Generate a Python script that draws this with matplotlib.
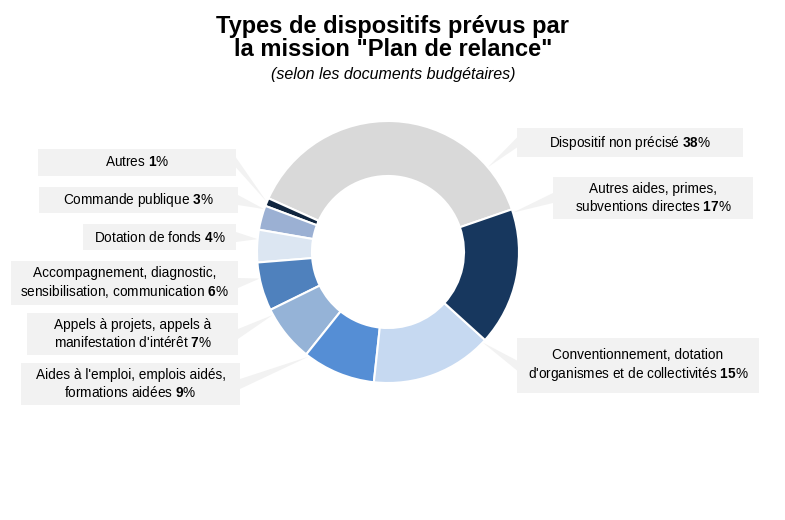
import numpy as np
import matplotlib
matplotlib.use("Agg")
import matplotlib.pyplot as plt
from matplotlib.patches import Rectangle, Polygon

plt.rcParams['font.family'] = ['Liberation Sans', 'DejaVu Sans']
plt.rcParams['mathtext.fontset'] = 'custom'
plt.rcParams['mathtext.rm'] = 'Liberation Sans'
plt.rcParams['mathtext.bf'] = 'Liberation Sans:bold'
plt.rcParams['mathtext.it'] = 'Liberation Sans:italic'

# ---- data (counter-clockwise order starting from the grey slice) ----
categories = [
    "Dispositif non précisé",
    "Autres",
    "Commande publique",
    "Dotation de fonds",
    "Accompagnement, diagnostic,\nsensibilisation, communication",
    "Appels à projets, appels à\nmanifestation d'intérêt",
    "Aides à l'emploi, emplois aidés,\nformations aidées",
    "Conventionnement, dotation\nd'organismes et de collectivités",
    "Autres aides, primes,\nsubventions directes",
]
values = [38, 1, 3, 4, 6, 7, 9, 15, 17]
colors = ["#d9d9d9", "#10253f", "#9bb0d3", "#dce6f2", "#4f81bd",
          "#95b3d7", "#558ed5", "#c6d9f1", "#17375e"]

# label boxes in pixel layout: (left, top, width, height)
boxes = [
    (517, 128, 226, 29),
    (38, 149, 198, 27),
    (39, 187, 199, 26),
    (83, 224, 153, 26),
    (11, 261, 227, 44),
    (27, 313, 211, 42),
    (21, 363, 219, 42),
    (517, 338, 242, 55),
    (553, 177, 200, 42),
]

W, H = 785, 520
fig = plt.figure(figsize=(W / 100, H / 100), dpi=100)
ax = fig.add_axes([0, 0, 1, 1])

cx, cy = 388, H - 252
R, r_in = 131, 76

wedges, _ = ax.pie(values, colors=colors, startangle=19, counterclock=True,
                   center=(cx, cy), radius=R,
                   wedgeprops=dict(width=R - r_in, edgecolor='white', linewidth=1.5))
ax.set_xlim(0, W)
ax.set_ylim(0, H)
ax.set_aspect('equal')
ax.axis('off')

box_color = "#f2f2f2"
for cat, val, w, (bx, by, bw, bh) in zip(categories, values, wedges, boxes):
    top = H - by
    bottom = top - bh
    left_side = bx + bw < cx
    ax_x = bx + bw if left_side else bx
    ax_y = (top + bottom) / 2
    # tail tip: direction of box anchor, clipped into wedge range
    ang = np.degrees(np.arctan2(ax_y - cy, ax_x - cx))
    t1, t2 = w.theta1, w.theta2
    while ang < t1 - 180:
        ang += 360
    while ang > t1 + 180:
        ang -= 360
    if (t2 - t1) > 4:
        ang = min(max(ang, t1 + 1.5), t2 - 1.5)
    else:
        ang = (t1 + t2) / 2
    tip = (cx + R * np.cos(np.radians(ang)), cy + R * np.sin(np.radians(ang)))
    tail = Polygon([(ax_x, ax_y + 5), (ax_x, ax_y - 5), tip],
                   closed=True, facecolor=box_color, edgecolor='none', zorder=0)
    ax.add_patch(tail)
    ax.add_patch(Rectangle((bx, bottom), bw, bh, facecolor=box_color,
                           edgecolor='none', zorder=1))
    lines = cat.split("\n")
    lines[-1] = lines[-1] + " $\\bf{" + str(val) + "}$%"
    ax.text(bx + bw / 2, ax_y, "\n".join(lines), ha='center', va='center',
            multialignment='center', fontsize=9.8, color='#000000', zorder=2,
            linespacing=1.25)

ax.text(393, H - 26, "Types de dispositifs prévus par", ha='center', va='center',
        fontsize=17, fontweight='bold')
ax.text(393, H - 50, "la mission \"Plan de relance\"", ha='center', va='center',
        fontsize=17, fontweight='bold')
ax.text(393, H - 75, "(selon les documents budgétaires)", ha='center', va='center',
        fontsize=11.5, fontstyle='italic')

fig.savefig("out.png", dpi=100)
